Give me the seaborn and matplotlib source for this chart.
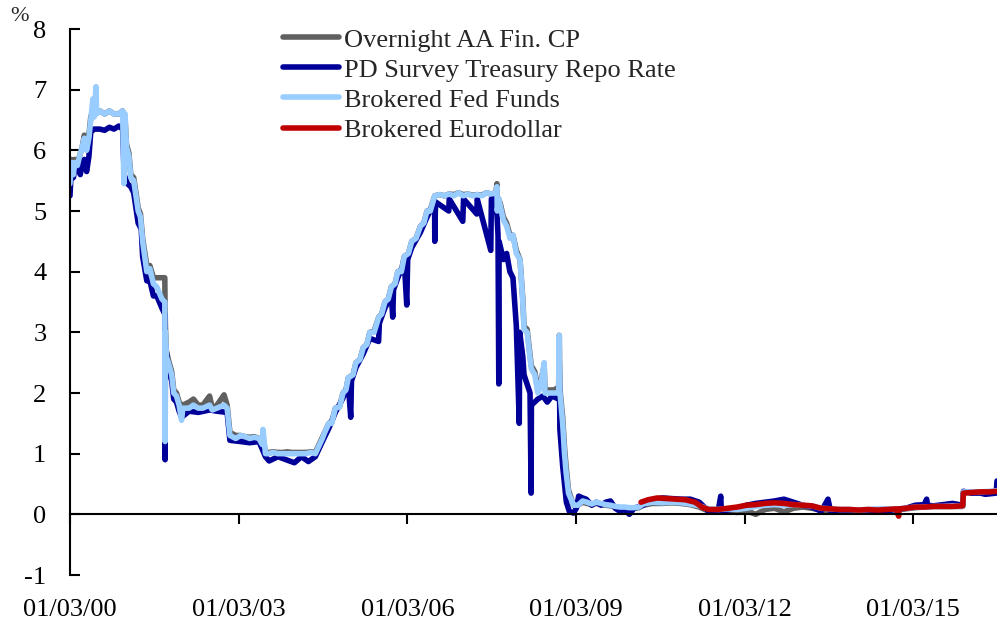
import numpy as np
import pandas as pd
import seaborn as sns
import matplotlib.pyplot as plt
import matplotlib.dates as mdates

# Brokered Fed Funds (also the date grid for the CP series)
ff_dates = ["2000-01-03", "2000-01-12", "2000-01-25", "2000-02-03", "2000-02-20", "2000-03-05", "2000-03-22",
            "2000-04-05", "2000-04-20", "2000-05-05", "2000-05-17", "2000-05-31", "2000-06-08", "2000-06-20",
            "2000-06-24", "2000-07-15", "2000-08-15", "2000-09-15", "2000-10-15", "2000-11-15", "2000-12-10",
            "2000-12-18", "2000-12-26", "2001-01-04", "2001-01-20", "2001-02-01", "2001-02-20", "2001-03-21",
            "2001-04-05", "2001-04-19", "2001-05-16", "2001-06-05", "2001-06-28", "2001-07-20", "2001-08-22",
            "2001-09-10", "2001-09-12", "2001-09-14", "2001-09-20", "2001-10-03", "2001-10-25", "2001-11-07",
            "2001-11-25", "2001-12-12", "2001-12-28", "2002-01-05", "2002-02-15", "2002-03-15", "2002-04-15",
            "2002-05-15", "2002-06-28", "2002-07-15", "2002-08-15", "2002-09-30", "2002-10-20", "2002-11-07",
            "2002-12-15", "2003-01-15", "2003-02-15", "2003-03-15", "2003-04-15", "2003-05-15", "2003-06-05",
            "2003-06-10", "2003-06-26", "2003-07-15", "2003-08-15", "2003-09-15", "2003-10-15", "2003-11-15",
            "2003-12-15", "2004-01-15", "2004-02-15", "2004-03-15", "2004-04-15", "2004-05-15", "2004-06-30",
            "2004-07-15", "2004-08-11", "2004-08-30", "2004-09-22", "2004-10-20", "2004-11-11", "2004-11-30",
            "2004-12-15", "2005-01-15", "2005-02-03", "2005-03-01", "2005-03-23", "2005-04-15", "2005-05-04",
            "2005-06-01", "2005-07-01", "2005-07-20", "2005-08-10", "2005-09-01", "2005-09-21", "2005-10-15",
            "2005-11-02", "2005-11-25", "2005-12-14", "2006-01-10", "2006-02-01", "2006-03-01", "2006-03-29",
            "2006-04-20", "2006-05-11", "2006-06-01", "2006-06-30", "2006-08-01", "2006-09-01", "2006-10-01",
            "2006-11-01", "2006-12-01", "2007-01-01", "2007-02-01", "2007-03-01", "2007-04-01", "2007-05-01",
            "2007-06-01", "2007-07-01", "2007-08-01", "2007-08-08", "2007-08-10", "2007-08-20", "2007-09-01",
            "2007-09-19", "2007-10-10", "2007-10-31", "2007-11-20", "2007-12-12", "2008-01-05", "2008-01-23",
            "2008-01-31", "2008-02-20", "2008-03-18", "2008-04-10", "2008-04-30", "2008-05-20", "2008-06-10",
            "2008-06-15", "2008-07-15", "2008-08-15", "2008-09-12", "2008-09-16", "2008-09-19", "2008-10-08",
            "2008-10-20", "2008-10-30", "2008-11-15", "2008-12-10", "2008-12-17", "2009-01-15", "2009-02-15",
            "2009-03-15", "2009-04-15", "2009-05-15", "2009-06-15", "2009-07-15", "2009-08-15", "2009-09-15",
            "2009-10-15", "2009-11-15", "2009-12-15", "2010-01-15", "2010-02-15", "2010-03-15", "2010-05-15",
            "2010-07-15", "2010-09-15", "2010-11-15", "2011-01-15", "2011-03-15", "2011-05-15", "2011-07-15",
            "2011-09-15", "2011-11-15", "2012-01-15", "2012-03-15", "2012-05-15", "2012-07-15", "2012-09-15",
            "2012-11-15", "2013-01-15", "2013-03-15", "2013-05-15", "2013-07-15", "2013-09-15", "2013-11-15",
            "2014-01-15", "2014-03-15", "2014-05-15", "2014-07-15", "2014-09-15", "2014-11-15", "2015-01-15",
            "2015-03-15", "2015-05-15", "2015-07-15", "2015-09-15", "2015-11-20", "2015-11-25", "2016-01-15",
            "2016-03-15", "2016-05-15", "2016-06-30"]
ff_vals = [5.45, 5.8, 5.6, 5.8, 5.75, 5.9, 6.05,
           6.2, 6.0, 6.2, 6.5, 6.85, 6.55, 7.05,
           6.6, 6.65, 6.6, 6.65, 6.6, 6.6, 6.65,
           5.45, 6.6, 6.05, 5.9, 5.55, 5.5, 5.0,
           4.9, 4.5, 4.0, 4.05, 3.8, 3.75, 3.55,
           3.5, 1.2, 3.0, 2.6, 2.5, 2.3, 2.0,
           1.95, 1.8, 1.55, 1.75, 1.75, 1.8, 1.75,
           1.75, 1.8, 1.72, 1.75, 1.8, 1.75, 1.3,
           1.25, 1.3, 1.28, 1.25, 1.27, 1.25, 1.15,
           1.4, 1.0, 1.0, 1.02, 1.0, 1.0, 1.0,
           1.0, 1.0, 1.0, 1.0, 1.02, 1.0, 1.25,
           1.35, 1.5, 1.5, 1.75, 1.77, 2.0, 2.05,
           2.25, 2.3, 2.5, 2.55, 2.75, 2.8, 3.0,
           3.0, 3.25, 3.3, 3.5, 3.55, 3.75, 3.8,
           4.0, 4.0, 4.25, 4.3, 4.5, 4.55, 4.75,
           4.8, 5.0, 5.0, 5.25, 5.27, 5.25, 5.28,
           5.25, 5.3, 5.25, 5.28, 5.25, 5.27, 5.25,
           5.3, 5.28, 5.3, 5.4, 5.0, 5.2, 5.05,
           4.85, 4.75, 4.55, 4.6, 4.3, 4.2, 3.5,
           3.05, 3.0, 2.4, 2.3, 2.0, 2.15, 2.5,
           2.0, 2.0, 2.0, 2.0, 2.95, 2.05, 1.5,
           1.0, 0.7, 0.35, 0.2, 0.15, 0.15, 0.22,
           0.2, 0.17, 0.2, 0.18, 0.16, 0.15, 0.13,
           0.12, 0.12, 0.11, 0.11, 0.12, 0.17, 0.2,
           0.19, 0.2, 0.19, 0.17, 0.14, 0.09, 0.08,
           0.09, 0.08, 0.1, 0.13, 0.15, 0.16, 0.15,
           0.16, 0.15, 0.14, 0.1, 0.09, 0.08, 0.08,
           0.07, 0.08, 0.09, 0.09, 0.09, 0.1, 0.12,
           0.12, 0.13, 0.13, 0.14, 0.13, 0.37, 0.37,
           0.37, 0.38, 0.39]

# Overnight AA Financial CP, on the same dates as ff_dates
cp_vals = [5.6, 5.85, 5.7, 5.85, 5.8, 5.9, 6.05,
           6.25, 6.1, 6.25, 6.55, 6.65, 6.6, 6.65,
           6.65, 6.65, 6.6, 6.65, 6.6, 6.6, 6.65,
           6.4, 6.5, 6.1, 5.95, 5.6, 5.55, 5.05,
           4.95, 4.55, 4.1, 4.1, 3.9, 3.9, 3.9,
           3.9, 3.4, 3.1, 2.7, 2.55, 2.35, 2.05,
           2.0, 1.85, 1.8, 1.8, 1.85, 1.9, 1.8,
           1.8, 1.95, 1.75, 1.8, 1.97, 1.8, 1.35,
           1.3, 1.3, 1.28, 1.27, 1.28, 1.25, 1.2,
           1.25, 1.02, 1.02, 1.03, 1.02, 1.02, 1.03,
           1.02, 1.02, 1.02, 1.02, 1.03, 1.02, 1.27,
           1.35, 1.5, 1.52, 1.75, 1.78, 2.0, 2.05,
           2.25, 2.3, 2.5, 2.55, 2.75, 2.8, 3.0,
           3.02, 3.25, 3.3, 3.5, 3.55, 3.75, 3.8,
           4.0, 4.02, 4.25, 4.3, 4.5, 4.55, 4.75,
           4.8, 5.0, 5.02, 5.25, 5.27, 5.25, 5.28,
           5.27, 5.3, 5.27, 5.28, 5.26, 5.27, 5.26,
           5.3, 5.28, 5.3, 5.45, 5.1, 5.2, 5.1,
           4.9, 4.8, 4.6, 4.6, 4.35, 4.2, 3.55,
           3.1, 3.05, 2.45, 2.35, 2.05, 2.2, 2.45,
           2.05, 2.05, 2.05, 2.1, 2.95, 2.1, 1.6,
           1.1, 0.8, 0.4, 0.2, 0.15, 0.15, 0.2,
           0.18, 0.16, 0.18, 0.16, 0.15, 0.14, 0.12,
           0.11, 0.1, 0.1, 0.1, 0.11, 0.15, 0.18,
           0.18, 0.19, 0.18, 0.16, 0.12, 0.05, 0.04,
           0.05, 0.03, 0.06, 0.0, 0.08, 0.1, 0.04,
           0.1, 0.12, 0.1, 0.07, 0.06, 0.06, 0.06,
           0.06, 0.06, 0.07, 0.07, 0.08, 0.09, 0.11,
           0.12, 0.13, 0.13, 0.13, 0.13, 0.36, 0.36,
           0.37, 0.37, 0.38]

# PD Survey Treasury Repo Rate
repo_dates = ["2000-01-03", "2000-01-10", "2000-01-25", "2000-02-03", "2000-02-25", "2000-03-10", "2000-03-22",
              "2000-04-05", "2000-04-20", "2000-05-05", "2000-05-17", "2000-06-08", "2000-07-15", "2000-08-15",
              "2000-09-15", "2000-10-15", "2000-11-15", "2000-12-10", "2000-12-20", "2001-01-10", "2001-02-01",
              "2001-02-20", "2001-03-21", "2001-04-10", "2001-04-19", "2001-05-16", "2001-06-05", "2001-06-28",
              "2001-07-20", "2001-08-22", "2001-09-10", "2001-09-12", "2001-09-14", "2001-10-03", "2001-10-25",
              "2001-11-07", "2001-11-25", "2001-12-12", "2001-12-28", "2002-02-15", "2002-04-15", "2002-06-28",
              "2002-08-15", "2002-10-20", "2002-11-07", "2003-01-15", "2003-03-15", "2003-05-15", "2003-06-26",
              "2003-07-20", "2003-09-15", "2003-12-31", "2004-02-15", "2004-03-31", "2004-05-15", "2004-06-30",
              "2004-08-11", "2004-09-22", "2004-11-11", "2004-12-15", "2004-12-31", "2005-01-05", "2005-02-03",
              "2005-03-23", "2005-05-04", "2005-06-30", "2005-07-05", "2005-08-10", "2005-09-21", "2005-09-30",
              "2005-10-05", "2005-11-02", "2005-12-14", "2005-12-30", "2006-01-05", "2006-02-01", "2006-03-29",
              "2006-05-11", "2006-06-29", "2006-06-30", "2006-07-05", "2006-09-29", "2006-10-02", "2006-12-29",
              "2007-01-03", "2007-03-30", "2007-04-02", "2007-06-29", "2007-07-03", "2007-08-01", "2007-08-09",
              "2007-08-15", "2007-08-20", "2007-08-22", "2007-09-19", "2007-10-10", "2007-10-31", "2007-11-20",
              "2007-12-12", "2007-12-31", "2008-01-03", "2008-01-23", "2008-01-31", "2008-03-10", "2008-03-17",
              "2008-03-19", "2008-04-30", "2008-06-01", "2008-06-30", "2008-07-30", "2008-09-12", "2008-09-16",
              "2008-09-20", "2008-10-08", "2008-10-20", "2008-11-01", "2008-11-20", "2008-12-17", "2009-01-05",
              "2009-01-20", "2009-02-15", "2009-03-10", "2009-04-15", "2009-05-15", "2009-06-15", "2009-07-15",
              "2009-08-15", "2009-09-15", "2009-10-15", "2009-11-15", "2009-12-15", "2010-01-15", "2010-03-15",
              "2010-05-15", "2010-07-15", "2010-09-15", "2010-11-15", "2011-01-15", "2011-03-15", "2011-05-15",
              "2011-07-15", "2011-08-01", "2011-08-05", "2011-09-15", "2011-11-15", "2012-01-15", "2012-03-15",
              "2012-05-15", "2012-07-15", "2012-09-15", "2012-11-15", "2013-01-15", "2013-03-15", "2013-05-15",
              "2013-06-28", "2013-07-15", "2013-09-15", "2013-11-15", "2014-01-15", "2014-03-15", "2014-05-15",
              "2014-07-15", "2014-09-15", "2014-11-15", "2015-01-15", "2015-03-15", "2015-03-31", "2015-04-05",
              "2015-05-15", "2015-07-15", "2015-09-15", "2015-11-20", "2015-11-25", "2016-01-15", "2016-03-15",
              "2016-04-15", "2016-06-25", "2016-06-30"]
repo_vals = [5.25, 5.6, 5.55, 5.7, 5.7, 5.6, 5.8,
             5.85, 5.65, 5.9, 6.3, 6.35, 6.35, 6.33,
             6.38, 6.35, 6.4, 6.35, 5.6, 5.45, 5.4,
             5.3, 4.8, 4.7, 4.25, 3.85, 3.85, 3.6,
             3.6, 3.4, 3.3, 0.9, 2.8, 2.4, 2.2,
             1.9, 1.85, 1.7, 1.6, 1.7, 1.68, 1.72,
             1.7, 1.68, 1.22, 1.2, 1.18, 1.2, 0.95,
             0.88, 0.95, 0.85, 0.95, 0.87, 0.95, 1.2,
             1.42, 1.68, 1.92, 2.15, 1.6, 2.2, 2.42,
             2.65, 2.9, 2.85, 3.15, 3.4, 3.6, 3.25,
             3.7, 3.9, 4.15, 3.45, 4.2, 4.4, 4.65,
             4.9, 5.15, 4.5, 5.15, 5.0, 5.2, 4.83,
             5.2, 4.95, 5.2, 4.35, 5.2, 5.2, 4.9,
             4.6, 2.15, 4.5, 4.2, 4.3, 4.0, 3.9,
             3.1, 1.5, 3.0, 2.6, 2.3, 2.0, 0.35,
             1.8, 1.9, 1.95, 1.85, 1.95, 1.9, 2.5,
             1.4, 0.8, 0.5, 0.2, 0.05, 0.02, 0.1,
             0.3, 0.27, 0.25, 0.15, 0.2, 0.15, 0.2,
             0.22, 0.1, 0.05, 0.08, 0.0, 0.1, 0.15,
             0.23, 0.27, 0.26, 0.25, 0.25, 0.2, 0.05,
             0.05, 0.3, 0.05, 0.07, 0.1, 0.15, 0.18,
             0.2, 0.22, 0.25, 0.2, 0.15, 0.12, 0.05,
             0.25, 0.05, 0.06, 0.05, 0.04, 0.06, 0.07,
             0.06, 0.08, 0.1, 0.15, 0.16, 0.25, 0.15,
             0.14, 0.16, 0.18, 0.15, 0.38, 0.35, 0.35,
             0.33, 0.35, 0.55]

# Brokered Eurodollar
ed_dates = ["2010-03-01", "2010-04-15", "2010-06-15", "2010-08-15", "2010-10-15", "2010-12-15", "2011-02-15",
            "2011-04-01", "2011-05-15", "2011-07-15", "2011-09-15", "2011-11-15", "2012-01-15", "2012-03-15",
            "2012-05-15", "2012-07-15", "2012-09-15", "2012-11-15", "2013-01-15", "2013-03-15", "2013-05-15",
            "2013-07-15", "2013-09-15", "2013-11-15", "2014-01-15", "2014-03-15", "2014-05-15", "2014-07-15",
            "2014-09-15", "2014-09-30", "2014-10-03", "2014-11-15", "2015-01-15", "2015-03-15", "2015-05-15",
            "2015-07-15", "2015-09-15", "2015-11-20", "2015-11-25", "2016-01-15", "2016-03-15", "2016-05-15",
            "2016-06-30"]
ed_vals = [0.2, 0.24, 0.27, 0.26, 0.25, 0.24, 0.2,
           0.12, 0.08, 0.08, 0.1, 0.12, 0.15, 0.16,
           0.18, 0.19, 0.18, 0.16, 0.15, 0.14, 0.1,
           0.09, 0.08, 0.08, 0.07, 0.08, 0.07, 0.08,
           0.09, -0.03, 0.09, 0.1, 0.12, 0.12, 0.13,
           0.13, 0.13, 0.14, 0.35, 0.36, 0.37, 0.37,
           0.38]

series = [
    ("Overnight AA Fin. CP", ff_dates, cp_vals, "#606060"),
    ("PD Survey Treasury Repo Rate", repo_dates, repo_vals, "#000099"),
    ("Brokered Fed Funds", ff_dates, ff_vals, "#99CCFF"),
    ("Brokered Eurodollar", ed_dates, ed_vals, "#C00000"),
]

sns.set_theme(style="white")
plt.rcParams["font.family"] = ["Liberation Serif", "DejaVu Serif"]
plt.rcParams["font.size"] = 19
plt.rcParams["axes.unicode_minus"] = False

fig = plt.figure(figsize=(9.97, 6.25), dpi=100)
ax = fig.add_axes([0.0702, 0.08, 0.9298, 0.8736])

for name, d, v, c in series:
    df = pd.DataFrame({"date": pd.to_datetime(d), "rate": v})
    sns.lineplot(data=df, x="date", y="rate", color=c, linewidth=4.0, label=name, ax=ax,
                 sort=False, estimator=None)

ax.set_xlim(pd.Timestamp("2000-01-03"), pd.Timestamp("2016-06-30"))
ax.set_ylim(-1, 8)
ax.set_yticks(range(-1, 9))
xt = pd.to_datetime(["2000-01-03", "2003-01-03", "2006-01-03", "2009-01-03", "2012-01-03", "2015-01-03"])
ax.set_xticks(xt)
ax.xaxis.set_major_formatter(mdates.DateFormatter("%m/%d/%y"))
ax.set_xlabel("")
ax.set_ylabel("")

for s in ["top", "right"]:
    ax.spines[s].set_visible(False)
for s in ["left", "bottom"]:
    ax.spines[s].set_color("black")
    ax.spines[s].set_linewidth(1.5)
ax.spines["bottom"].set_position(("data", 0))

ax.tick_params(axis="y", direction="in", length=7, width=1.5, pad=17, labelsize=19, colors="black")
ax.tick_params(axis="x", direction="out", length=7, width=1.5, pad=54, labelsize=19, colors="black")
ax.tick_params(left=True, bottom=True)

fig.text(0.02, 0.974, "%", fontsize=16, ha="center", va="center")

ax.legend(loc="upper left", bbox_to_anchor=(0.284, 0.955), bbox_transform=fig.transFigure,
          frameon=False, borderpad=0, borderaxespad=0, handlelength=2.1, handletextpad=0.2,
          labelspacing=0.25, fontsize=19)
for line in ax.get_legend().get_lines():
    line.set_linewidth(4.0)

fig.savefig("out.png", dpi=100)
